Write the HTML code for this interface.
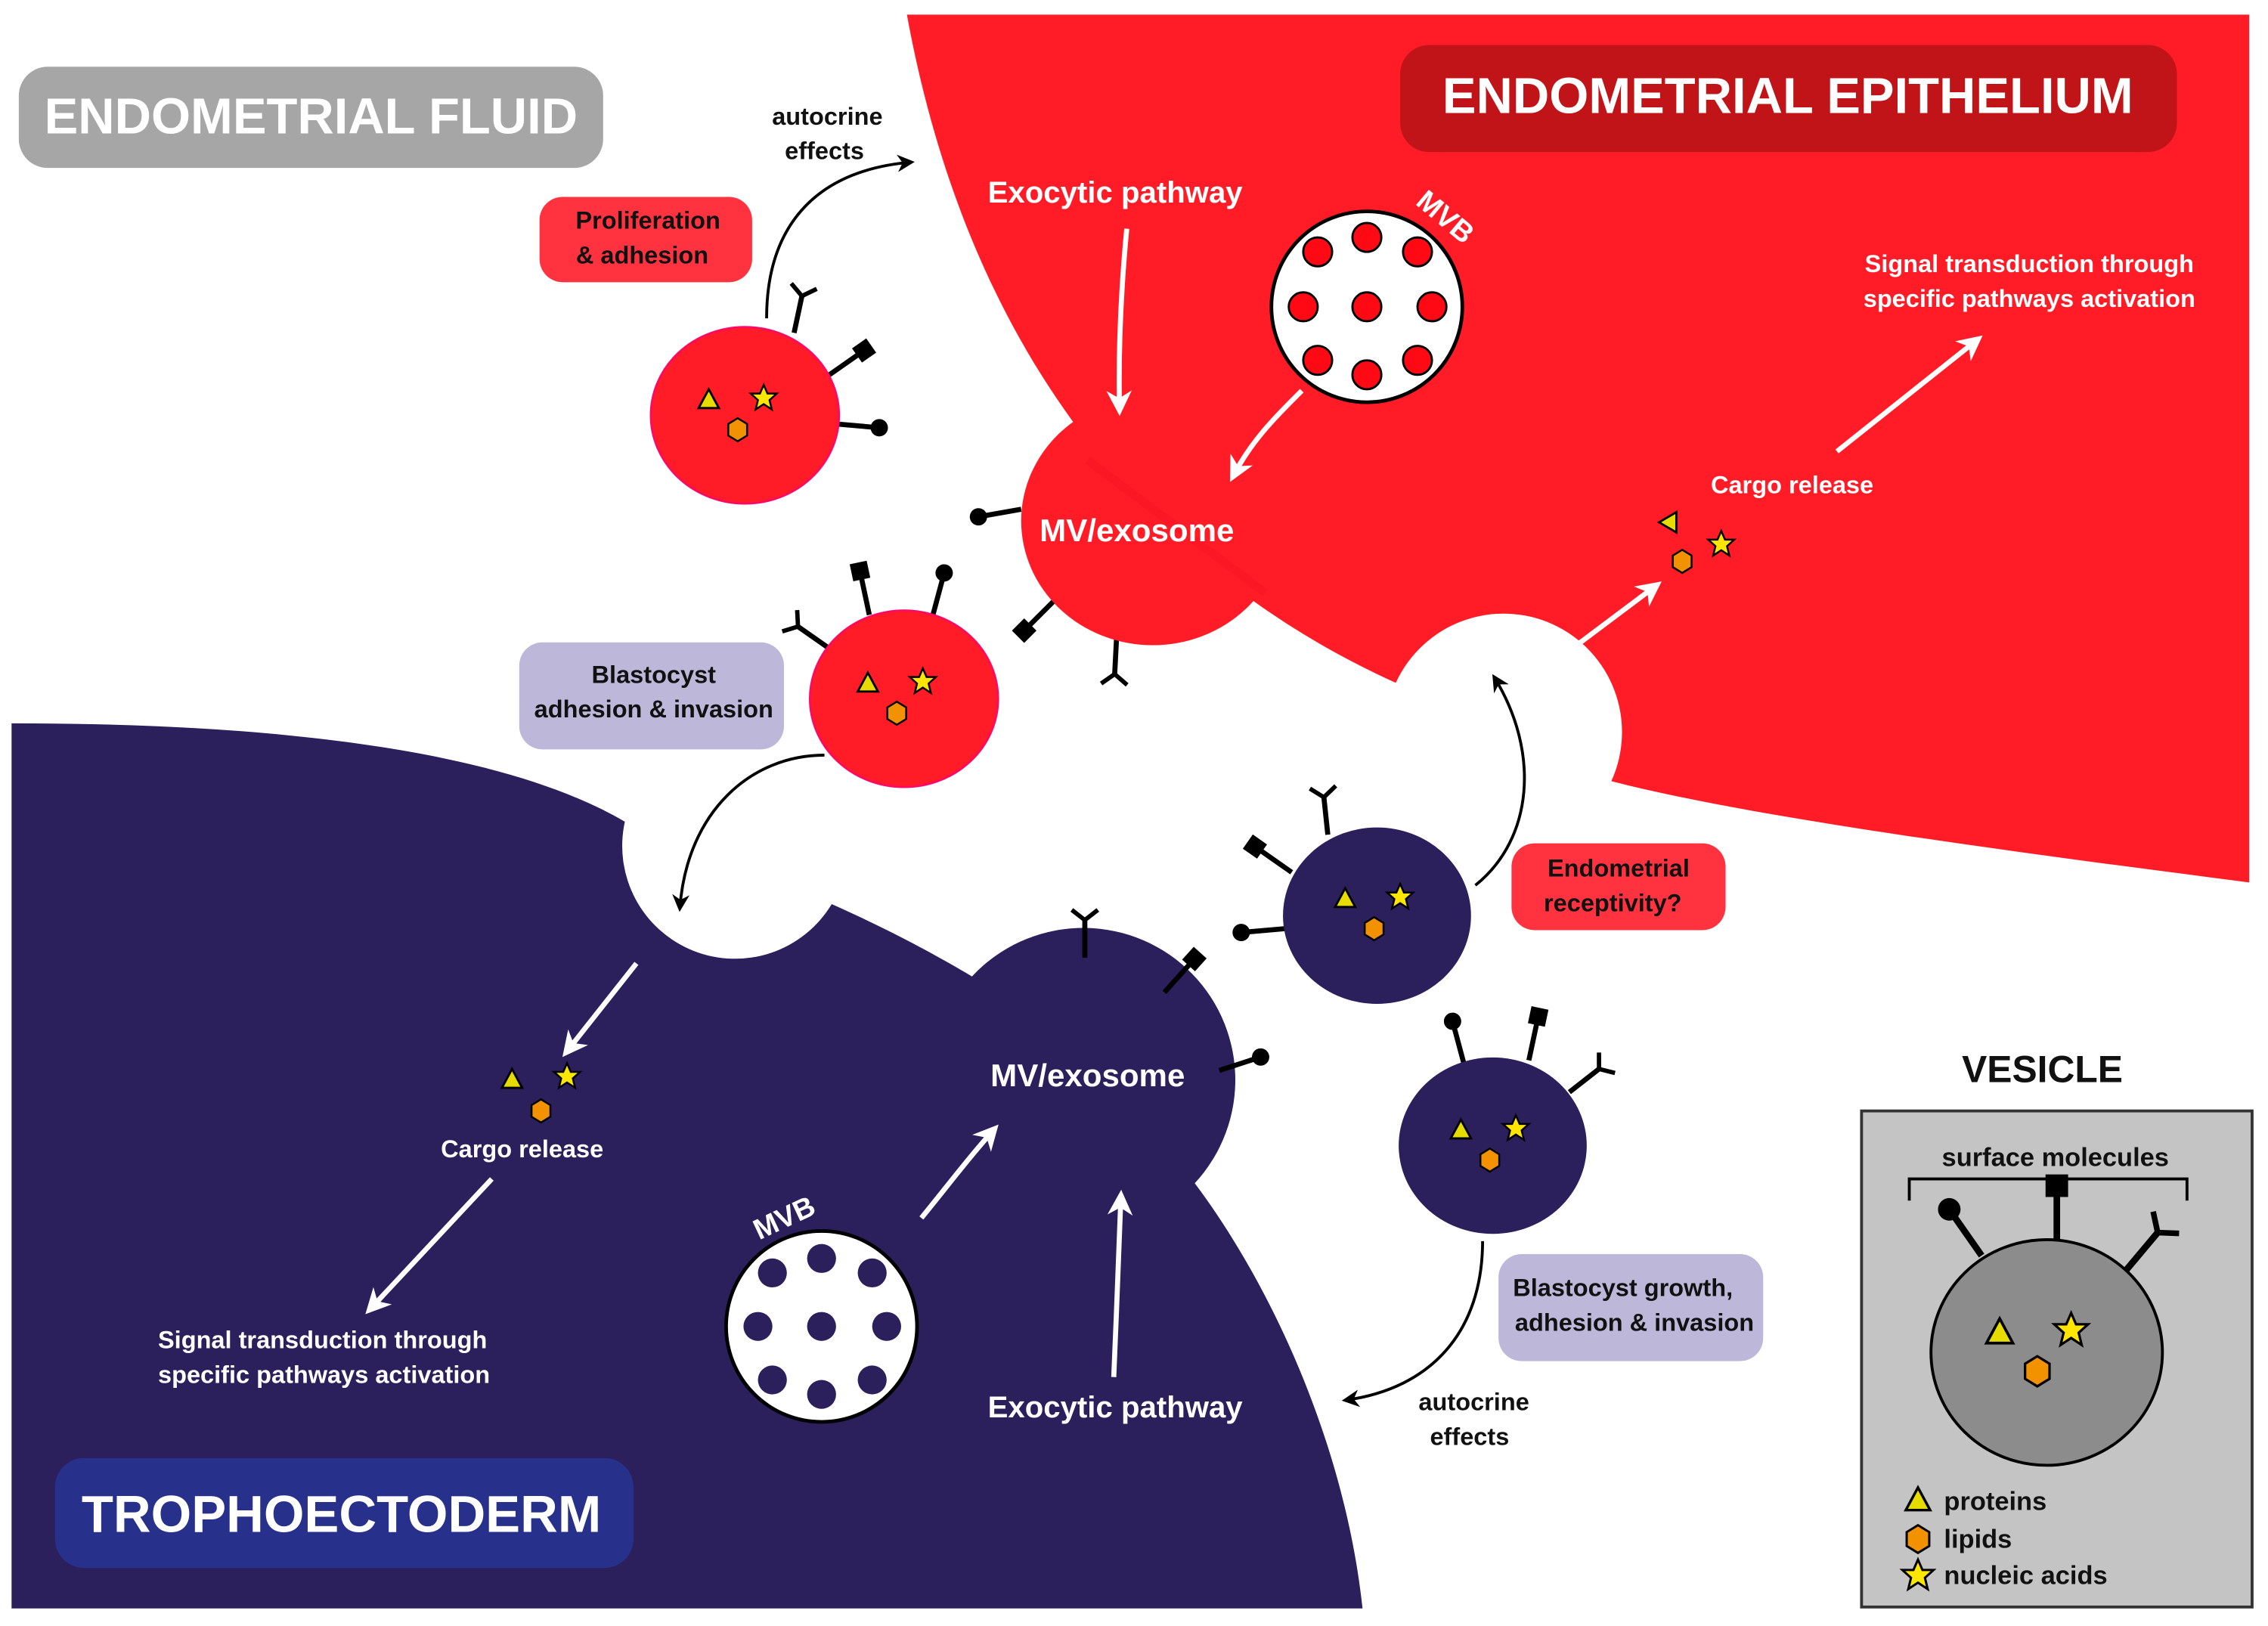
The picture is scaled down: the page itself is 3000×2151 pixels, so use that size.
<!DOCTYPE html>
<html><head><meta charset="utf-8"><style>
html,body{margin:0;padding:0;background:#fff;}
svg{display:block;}
text{font-family:"Liberation Sans",sans-serif;font-weight:bold;}
</style></head><body>
<svg width="3000" height="2151" viewBox="0 0 1568 1124" xmlns="http://www.w3.org/2000/svg">
<defs>
<marker id="aw" viewBox="0 0 10 10" refX="8" refY="5" markerWidth="5" markerHeight="5" orient="auto"><path d="M0,0 L10,5 L0,10 L3,5 Z" fill="#fff"/></marker>
<marker id="ab" viewBox="0 0 10 10" refX="8" refY="5" markerWidth="6" markerHeight="6" orient="auto"><path d="M0,0 L10,5 L0,10 L3,5 Z" fill="#000"/></marker>
<g id="ry"><line x1="0" y1="0" x2="0" y2="-26" stroke="#000" stroke-width="3.5"/><line x1="0" y1="-26" x2="-9" y2="-33" stroke="#000" stroke-width="3"/><line x1="0" y1="-26" x2="9" y2="-33" stroke="#000" stroke-width="3"/></g>
<g id="rs"><line x1="0" y1="0" x2="0" y2="-26" stroke="#000" stroke-width="3.5"/><rect x="-6" y="-37" width="12" height="12" fill="#000"/></g>
<g id="rb"><line x1="0" y1="0" x2="0" y2="-26" stroke="#000" stroke-width="3.5"/><circle cx="0" cy="-30" r="6" fill="#000"/></g>
<g id="tri"><polygon points="0,-8 7,5 -7,5" fill="#e6dc00" stroke="#000" stroke-width="1.5"/></g>
<g id="star"><polygon points="0,-9 2.6,-3 9,-3 4,1.5 5.6,8 0,4.3 -5.6,8 -4,1.5 -9,-3 -2.6,-3" fill="#ffe600" stroke="#000" stroke-width="1.3"/></g>
<g id="hex"><polygon points="0,-8 6.5,-4 6.5,4 0,8 -6.5,4 -6.5,-4" fill="#f39200" stroke="#000" stroke-width="1.3"/></g>
<g id="cargo"><use href="#tri" x="-25" y="-10"/><use href="#star" x="13" y="-12"/><use href="#hex" x="-5" y="10"/></g>
</defs>

<path d="M627,10 L1555,10 L1555,610 C1400,590 1210,565 1114,540 A78,78 0 0 0 965,472 C850,420 680,300 627,10 Z" fill="#ff1c27"/>
<path d="M8,500 C200,500 350,520 432,568 A78,78 0 0 0 575,625 C620,645 650,662 672,675 A92,92 0 0 1 826,818 C880,890 930,1000 942,1112 L8,1112 Z" fill="#2b1f5c"/>

<rect x="13" y="46" width="404" height="70" rx="20" fill="#a6a6a6"/>
<text x="215" y="92" font-size="35" fill="#fff" text-anchor="middle">ENDOMETRIAL FLUID</text>
<rect x="968" y="31" width="537" height="74" rx="20" fill="#c01418"/>
<text x="1236" y="78" font-size="35" fill="#fff" text-anchor="middle">ENDOMETRIAL EPITHELIUM</text>
<rect x="38" y="1008" width="400" height="76" rx="20" fill="#27308a"/>
<text x="236" y="1059" font-size="36" fill="#fff" text-anchor="middle">TROPHOECTODERM</text>

<circle cx="945" cy="212" r="66" fill="#fff" stroke="#000" stroke-width="2.5"/>
<g fill="#ff0a14" stroke="#000" stroke-width="1.5">
<circle cx="911" cy="174" r="10"/><circle cx="945" cy="164" r="10"/><circle cx="980" cy="174" r="10"/>
<circle cx="901" cy="212" r="10"/><circle cx="945" cy="212" r="10"/><circle cx="990" cy="212" r="10"/>
<circle cx="911" cy="249" r="10"/><circle cx="945" cy="259" r="10"/><circle cx="980" cy="249" r="10"/></g>
<text x="995" y="155" font-size="20" fill="#fff" transform="rotate(40 995 155)" text-anchor="middle">MVB</text>
<circle cx="568" cy="917" r="66" fill="#fff" stroke="#000" stroke-width="2.5"/>
<g fill="#2b1f5c">
<circle cx="534" cy="880" r="10"/><circle cx="568" cy="870" r="10"/><circle cx="603" cy="880" r="10"/>
<circle cx="524" cy="917" r="10"/><circle cx="568" cy="917" r="10"/><circle cx="613" cy="917" r="10"/>
<circle cx="534" cy="954" r="10"/><circle cx="568" cy="964" r="10"/><circle cx="603" cy="954" r="10"/></g>
<text x="545" y="848" font-size="20" fill="#fff" transform="rotate(-25 545 848)" text-anchor="middle">MVB</text>

<use href="#rb" transform="translate(706,352) rotate(-100)"/>
<use href="#rs" transform="translate(730,414) rotate(-135)"/>
<use href="#ry" transform="translate(772,440) rotate(183)"/>
<ellipse cx="797" cy="360" rx="91" ry="86" fill="#ff1c27"/>
<line x1="752" y1="318" x2="875" y2="410" stroke="#f0101c" stroke-width="6" opacity="0.25"/>
<text x="786" y="374" font-size="22" fill="#fff" text-anchor="middle">MV/exosome</text>

<use href="#ry" transform="translate(750,662) rotate(0)"/>
<use href="#rs" transform="translate(805,686) rotate(42)"/>
<use href="#rb" transform="translate(843,740) rotate(72)"/>
<text x="752" y="751" font-size="22" fill="#fff" text-anchor="middle">MV/exosome</text>

<use href="#ry" transform="translate(549,230) rotate(12)"/>
<use href="#rs" transform="translate(572,260) rotate(55)"/>
<use href="#rb" transform="translate(578,293) rotate(95)"/>
<ellipse cx="515" cy="287" rx="65" ry="61" fill="#ff1c27" stroke="#ff0a60" stroke-width="1.5"/>
<use href="#cargo" transform="translate(515,287)"/>
<use href="#ry" transform="translate(573,448) rotate(-55)"/>
<use href="#rs" transform="translate(601,425) rotate(-12)"/>
<use href="#rb" transform="translate(645,425) rotate(15)"/>
<ellipse cx="625" cy="483" rx="65" ry="61" fill="#ff1c27" stroke="#ff0a60" stroke-width="1.5"/>
<use href="#cargo" transform="translate(625,483)"/>
<use href="#ry" transform="translate(918,577) rotate(-6)"/>
<use href="#rs" transform="translate(893,603) rotate(-55)"/>
<use href="#rb" transform="translate(888,642) rotate(-95)"/>
<ellipse cx="952" cy="633" rx="65" ry="61" fill="#2b1f5c"/>
<use href="#cargo" transform="translate(955,632)"/>
<use href="#rb" transform="translate(1012,735) rotate(-15)"/>
<use href="#rs" transform="translate(1057,733) rotate(12)"/>
<use href="#ry" transform="translate(1085,755) rotate(52)"/>
<ellipse cx="1032" cy="792" rx="65" ry="61" fill="#2b1f5c"/>
<use href="#cargo" transform="translate(1035,792)"/>

<rect x="373" y="136" width="147" height="59" rx="16" fill="#ff3340"/>
<text x="448" y="158" font-size="17" fill="#111" text-anchor="middle">Proliferation</text>
<text x="444" y="182" font-size="17" fill="#111" text-anchor="middle">&amp; adhesion</text>
<rect x="359" y="444" width="183" height="74" rx="16" fill="#bdb8da"/>
<text x="452" y="472" font-size="17" fill="#111" text-anchor="middle">Blastocyst</text>
<text x="452" y="496" font-size="17" fill="#111" text-anchor="middle">adhesion &amp; invasion</text>
<rect x="1045" y="583" width="148" height="60" rx="16" fill="#ff3340"/>
<text x="1119" y="606" font-size="17" fill="#111" text-anchor="middle">Endometrial</text>
<text x="1115" y="630" font-size="17" fill="#111" text-anchor="middle">receptivity?</text>
<rect x="1036" y="867" width="183" height="74" rx="16" fill="#bdb8da"/>
<text x="1122" y="896" font-size="17" fill="#111" text-anchor="middle">Blastocyst growth,</text>
<text x="1130" y="920" font-size="17" fill="#111" text-anchor="middle">adhesion &amp; invasion</text>

<text x="572" y="86" font-size="17" fill="#111" text-anchor="middle">autocrine</text>
<text x="570" y="110" font-size="17" fill="#111" text-anchor="middle">effects</text>
<text x="1019" y="975" font-size="17" fill="#111" text-anchor="middle">autocrine</text>
<text x="1016" y="999" font-size="17" fill="#111" text-anchor="middle">effects</text>

<text x="771" y="140" font-size="21" fill="#fff" text-anchor="middle">Exocytic pathway</text>
<text x="771" y="980" font-size="21" fill="#fff" text-anchor="middle">Exocytic pathway</text>
<text x="1403" y="188" font-size="17" fill="#fff" text-anchor="middle">Signal transduction through</text>
<text x="1403" y="212" font-size="17" fill="#fff" text-anchor="middle">specific pathways activation</text>
<text x="1239" y="341" font-size="17" fill="#fff" text-anchor="middle">Cargo release</text>
<text x="361" y="800" font-size="17" fill="#fff" text-anchor="middle">Cargo release</text>
<text x="223" y="932" font-size="17" fill="#fff" text-anchor="middle">Signal transduction through</text>
<text x="224" y="956" font-size="17" fill="#fff" text-anchor="middle">specific pathways activation</text>

<polygon points="1147,361 1159,354 1159,368" fill="#e6dc00" stroke="#000" stroke-width="1.5"/>
<use href="#hex" x="1163" y="388"/><use href="#star" x="1190" y="376"/>
<use href="#tri" x="354" y="747"/><use href="#star" x="392" y="744"/><use href="#hex" x="374" y="768"/>

<g stroke="#fff" stroke-width="3.5" fill="none" marker-end="url(#aw)">
<path d="M779,158 C775,200 773,240 774,284"/>
<path d="M900,270 C880,290 865,305 852,330"/>
<path d="M1270,312 L1368,234"/>
<path d="M1082,452 L1146,404"/>
<path d="M440,666 L391,728"/>
<path d="M340,815 L255,906"/>
<path d="M637,842 C655,820 670,800 688,780"/>
<path d="M770,952 C772,910 773,870 775,826"/>
</g>
<g stroke="#000" stroke-width="2" fill="none" marker-end="url(#ab)">
<path d="M530,220 C530,160 560,118 630,112"/>
<path d="M570,522 C520,522 475,560 470,628"/>
<path d="M1020,612 C1060,580 1065,520 1033,468"/>
<path d="M1025,858 C1025,920 990,960 930,968"/>
</g>

<text x="1412" y="748" font-size="26" fill="#111" text-anchor="middle">VESICLE</text>
<rect x="1287" y="768" width="270" height="343" fill="#c4c4c4" stroke="#333" stroke-width="2"/>
<text x="1421" y="806" font-size="18" fill="#111" text-anchor="middle">surface molecules</text>
<path d="M1320,830 L1320,815 L1512,815 L1512,830" stroke="#000" stroke-width="2" fill="none"/>
<g transform="translate(1370,868) rotate(-35) scale(1.3)"><use href="#rb"/></g>
<g transform="translate(1422,860) scale(1.3)"><use href="#rs"/></g>
<g transform="translate(1470,878) rotate(40) scale(1.3)"><use href="#ry"/></g>
<ellipse cx="1415" cy="935" rx="80" ry="78" fill="#8c8c8c" stroke="#000" stroke-width="2"/>
<g transform="translate(1415,935) scale(1.3)"><use href="#cargo"/></g>
<g transform="translate(1326,1038) scale(1.2)"><use href="#tri"/></g>
<g transform="translate(1326,1064) scale(1.2)"><use href="#hex"/></g>
<g transform="translate(1326,1089) scale(1.2)"><use href="#star"/></g>
<text x="1344" y="1044" font-size="18" fill="#111">proteins</text>
<text x="1344" y="1070" font-size="18" fill="#111">lipids</text>
<text x="1344" y="1095" font-size="18" fill="#111">nucleic acids</text>
</svg>
</body></html>
